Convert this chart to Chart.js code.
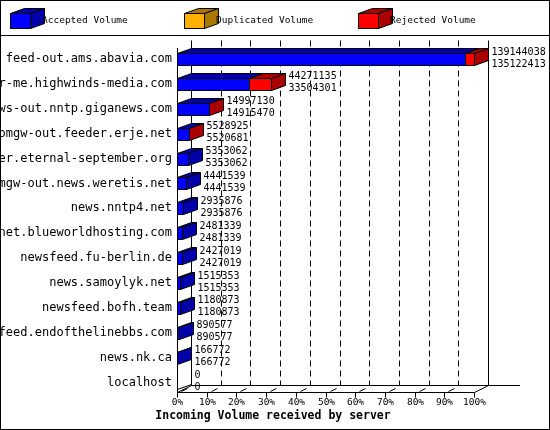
<!DOCTYPE html>
<html><head><meta charset="utf-8">
<script src="https://cdn.jsdelivr.net/npm/chart.js@4"></script>
<style>html,body{margin:0;padding:0;background:#fff}#w{width:550px;height:430px}</style>
</head><body><div id="w"><canvas id="c"></canvas></div>
<script>
const categories = ["feed-out.ams.abavia.com","voer-me.highwinds-media.com","news-out.nntp.giganews.com","comgw-out.feeder.erje.net","feeder.eternal-september.org","comgw-out.news.weretis.net","news.nntp4.net","usenet.blueworldhosting.com","newsfeed.fu-berlin.de","news.samoylyk.net","newsfeed.bofh.team","newsfeed.endofthelinebbs.com","news.nk.ca","localhost"];
const totalVolume = [139144038,44271135,14997130,5528925,5353062,4441539,2935876,2481339,2427019,1515353,1180873,890577,166772,0];
const acceptedVolume = [135122413,33504301,14915470,5520681,5353062,4441539,2935876,2481339,2427019,1515353,1180873,890577,166772,0];
const duplicatedVolume = [0,0,0,0,0,0,0,0,0,0,0,0,0,0];
const tickLabels = ["0%","10%","20%","30%","40%","50%","60%","70%","80%","90%","100%"];
const seriesNames = ["Accepted Volume","Duplicated Volume","Rejected Volume"];

const maxV = Math.max(...totalVolume);
const rejectedVolume = totalVolume.map((t,i)=>t-acceptedVolume[i]-duplicatedVolume[i]);
const pct = a => a.map(v=>v/maxV*100);
const DX=14, DY=-5;
const cols=[["#0000ff","#0000aa"],["#ffb000","#aa7700"],["#ff0000","#aa0000"]];
const MONO='"DejaVu Sans Mono", monospace';

function box3d(ctx,x0,x1,yt,yb,c,side){
  ctx.lineWidth=1;ctx.strokeStyle="#000";
  ctx.fillStyle=c[1];
  ctx.beginPath();ctx.moveTo(x0,yt);ctx.lineTo(x0+DX,yt+DY);ctx.lineTo(x1+DX,yt+DY);ctx.lineTo(x1,yt);ctx.closePath();ctx.fill();ctx.stroke();
  if(side){ctx.beginPath();ctx.moveTo(x1,yt);ctx.lineTo(x1+DX,yt+DY);ctx.lineTo(x1+DX,yb+DY);ctx.lineTo(x1,yb);ctx.closePath();ctx.fill();ctx.stroke();}
  if(x1>x0){ctx.fillStyle=c[0];ctx.fillRect(x0,yt,x1-x0,yb-yt);ctx.strokeRect(x0,yt,x1-x0,yb-yt);}
}

const plugin={id:'d3',
 beforeDatasetsDraw(chart){
  const ctx=chart.ctx,xs=chart.scales.x,ys=chart.scales.y;
  const X=v=>Math.round(xs.getPixelForValue(v))+0.5;
  const yTop=40.5,yBack=385.5,yFront=392.5;
  ctx.save();
  ctx.strokeStyle="#000";ctx.lineWidth=1;
  ctx.strokeRect(0.5,0.5,549,429);
  ctx.beginPath();ctx.moveTo(0,35.5);ctx.lineTo(550,35.5);ctx.stroke();
  // legend
  ctx.font='9.5px '+MONO;ctx.textBaseline='middle';ctx.textAlign='left';
  [10,184,358].forEach((lx,i)=>{box3d(ctx,lx+0.5,lx+20.5,13.5,28.5,cols[i],true);ctx.fillStyle="#000";ctx.fillText(seriesNames[i],lx+32,20.5);});
  // walls
  ctx.beginPath();
  ctx.moveTo(X(0)+DX,yTop);ctx.lineTo(X(0)+DX,yBack);
  ctx.moveTo(X(100)+DX,yTop);ctx.lineTo(X(100)+DX,yBack);
  ctx.moveTo(X(0)+DX,yBack);ctx.lineTo(520,yBack);
  ctx.moveTo(X(0),48);ctx.lineTo(X(0),yFront);ctx.lineTo(X(100),yFront);ctx.lineTo(X(100)+DX,yBack);
  ctx.moveTo(X(0),yFront);ctx.lineTo(X(0)+DX,yBack);
  ctx.stroke();
  ctx.setLineDash([6,4]);ctx.beginPath();
  for(let k=1;k<10;k++){ctx.moveTo(X(k*10)+DX,yTop);ctx.lineTo(X(k*10)+DX,yBack);}
  ctx.stroke();ctx.setLineDash([]);
  ctx.beginPath();
  for(let k=0;k<=10;k++){const x=X(k*10);ctx.moveTo(x,yFront);ctx.lineTo(x,yFront+5);
    if(k<10){ctx.moveTo(x+4,yFront-1);ctx.lineTo(x+10,yFront-4);}}
  ctx.stroke();
  ctx.fillStyle="#000";ctx.font='9.5px '+MONO;ctx.textAlign='center';ctx.textBaseline='middle';
  tickLabels.forEach((t,k)=>ctx.fillText(t,X(k*10),403));
  ctx.font='bold 11.5px '+MONO;ctx.fillText("Incoming Volume received by server",273,416);
  // bars
  const data=chart.data.datasets.map(d=>d.data);
  categories.forEach((c,i)=>{
    const yc=ys.getPixelForValue(i);const yt=Math.round(yc-6)+0.5,yb=yt+12;
    let acc=0;const segs=[];
    data.forEach((d,s)=>{if(d[i]>0){segs.push([acc,acc+d[i],s]);}acc+=d[i];});
    if(segs.length===0){ctx.beginPath();ctx.moveTo(X(0),yb);ctx.lineTo(X(0)+DX,yb+DY);ctx.stroke();}
    segs.forEach((sg,j)=>box3d(ctx,X(sg[0]),X(sg[1]),yt,yb,cols[sg[2]],j===segs.length-1));
    ctx.fillStyle="#000";ctx.font='12px '+MONO;ctx.textAlign='right';ctx.textBaseline='middle';
    ctx.fillText(c,172,yc);
    ctx.font='10px '+MONO;ctx.textAlign='left';
    const ex=X(acc)+DX+3;
    ctx.fillText(String(totalVolume[i]),ex,yc-7);
    ctx.fillText(String(acceptedVolume[i]),ex,yc+5);
  });
  ctx.restore();
  return false;
 }};

new Chart(document.getElementById('c'),{
 type:'bar',
 data:{labels:categories,datasets:[
  {label:seriesNames[0],data:pct(acceptedVolume),backgroundColor:cols[0][0]},
  {label:seriesNames[1],data:pct(duplicatedVolume),backgroundColor:cols[1][0]},
  {label:seriesNames[2],data:pct(rejectedVolume),backgroundColor:cols[2][0]}]},
 options:{indexAxis:'y',responsive:true,maintainAspectRatio:false,animation:false,
  layout:{padding:{left:177,right:76,top:46.5,bottom:35}},
  plugins:{legend:{display:false},tooltip:{enabled:false}},
  scales:{x:{stacked:true,min:0,max:100,display:false},y:{stacked:true,display:false}}},
 plugins:[plugin]});
</script></body></html>
